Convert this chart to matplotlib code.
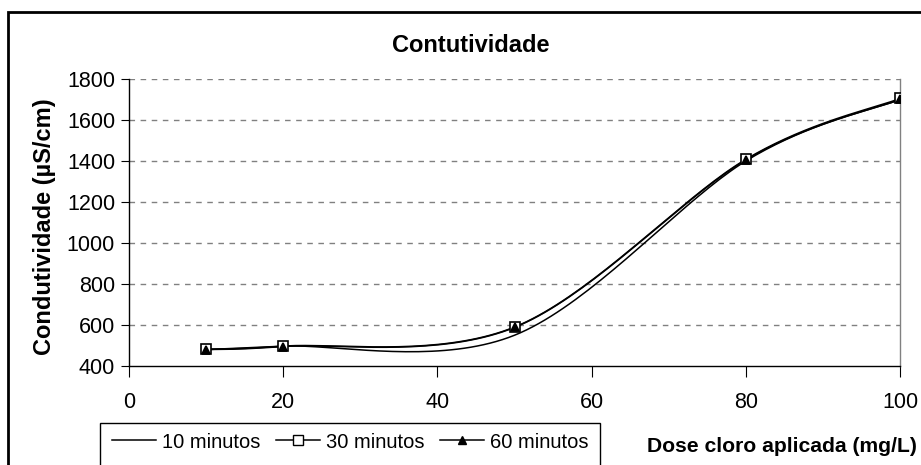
import numpy as np
import matplotlib
matplotlib.use("Agg")
import matplotlib.pyplot as plt
from matplotlib.lines import Line2D
from matplotlib.patches import Rectangle

plt.rcParams['font.family'] = ['Liberation Sans', 'DejaVu Sans']

# Data
dose = [10, 20, 50, 80, 100]
min10 = [480, 497, 550, 1400, 1700]
min30 = [482, 497, 590, 1408, 1705]
min60 = [480, 495, 588, 1405, 1700]
series_labels = ['10 minutos', '30 minutos', '60 minutos']
yticks = [400, 600, 800, 1000, 1200, 1400, 1600, 1800]
xticks = [0, 20, 40, 60, 80, 100]


def excel_smooth(x, y, n=40):
    x = np.asarray(x, float)
    y = np.asarray(y, float)
    P = np.column_stack([x, y])
    m = len(P)
    out = []
    for i in range(m - 1):
        p0 = P[i]
        p3 = P[i + 1]
        prev = P[i - 1] if i > 0 else P[i]
        nxt = P[i + 2] if i + 2 < m else P[i + 1]
        c1 = p0 + (p3 - prev) / 6.0
        c2 = p3 - (nxt - p0) / 6.0
        t = np.linspace(0, 1, n)[:, None]
        seg = ((1 - t) ** 3) * p0 + 3 * ((1 - t) ** 2) * t * c1 + 3 * (1 - t) * t ** 2 * c2 + t ** 3 * p3
        if i > 0:
            seg = seg[1:]
        out.append(seg)
    out = np.vstack(out)
    return out[:, 0], out[:, 1]


fig = plt.figure(figsize=(9.21, 4.65), dpi=100)
ax = fig.add_axes([129 / 921, 1 - 366 / 465, (900 - 129) / 921, (366 - 79) / 465])

fs = 15.5
fsb = 17

for vals, mk, mfc in [(min10, None, None), (min30, 's', 'white'), (min60, '^', 'black')]:
    sx, sy = excel_smooth(dose, vals)
    ax.plot(sx, sy, color='black', lw=1.1, zorder=3)
    if mk:
        ax.plot(dose, vals, linestyle='none', marker=mk, markersize=7 if mk == 's' else 6,
                markerfacecolor=mfc, markeredgecolor='black', markeredgewidth=1.2, zorder=4)

ax.set_xlim(0, 100)
ax.set_ylim(400, 1800)
ax.set_xticks(xticks)
ax.set_yticks(yticks)
ax.tick_params(axis='both', labelsize=fs, direction='out', color='black')
ax.tick_params(axis='x', length=8, pad=11)
ax.tick_params(axis='y', length=6, pad=4)

for yv in yticks[1:]:
    ax.axhline(yv, color='#808080', lw=1.0, linestyle=(0, (4, 4)), zorder=1)

ax.spines['top'].set_visible(False)
ax.spines['right'].set_color('#808080')
ax.spines['left'].set_color('black')
ax.spines['bottom'].set_color('black')
for s in ['left', 'bottom', 'right']:
    ax.spines[s].set_linewidth(1.0)

fig.text(471 / 921, 1 - 45 / 465, 'Contutividade', ha='center', va='center',
         fontsize=fsb, fontweight='bold')
fig.text(44 / 921, 1 - 227 / 465, 'Condutividade (µS/cm)', ha='center', va='center',
         rotation=90, fontsize=fsb, fontweight='bold')
fig.text(917 / 921, 1 - 446 / 465, 'Dose cloro aplicada (mg/L)', ha='right', va='center',
         fontsize=15.2, fontweight='bold')

# outer chart border
fig.patches.append(Rectangle((8 / 921, -0.2), 1.2, 1 - 12 / 465 + 0.2, transform=fig.transFigure,
                             fill=False, edgecolor='black', lw=2.0, zorder=0))
# legend box
fig.patches.append(Rectangle((100 / 921, -0.2), 500 / 921, 1 - 423 / 465 + 0.2,
                             transform=fig.transFigure, fill=False, edgecolor='black', lw=1.0))

handles = [
    Line2D([], [], color='black', lw=1.1),
    Line2D([], [], color='black', lw=1.1, marker='s', markersize=7, markerfacecolor='white',
           markeredgecolor='black'),
    Line2D([], [], color='black', lw=1.1, marker='^', markersize=6, markerfacecolor='black',
           markeredgecolor='black'),
]
fig.legend(handles, series_labels, loc='center left', ncol=3, frameon=False,
           bbox_to_anchor=(104 / 921, 1 - 442 / 465), fontsize=14.5, handlelength=2.2,
           handletextpad=0.3, columnspacing=0.75, borderaxespad=0)

fig.savefig('out.png', dpi=100)
